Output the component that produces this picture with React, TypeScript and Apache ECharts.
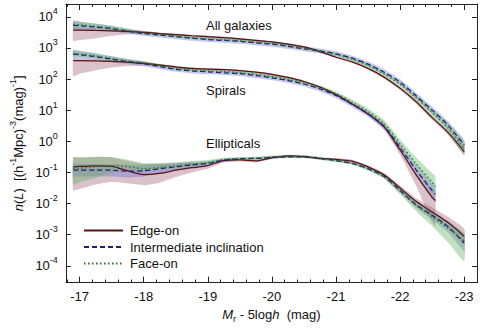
import React, { useEffect, useRef } from "react";
import * as echarts from "echarts";

const FONT = "'Liberation Sans', Arial, Helvetica, sans-serif";

// Absolute magnitude grid (M_r - 5 log h)
const mags = [-16.9, -17, -17.25, -17.5, -17.75, -18, -18.25, -18.5, -18.75, -19, -19.25, -19.5, -19.75, -20, -20.25, -20.5, -20.75, -21, -21.25, -21.5, -21.75, -22, -22.25, -22.5, -22.75, -23];
const magsSpirals = [-16.9, -17, -17.25, -17.5, -17.75, -18, -18.25, -18.5, -18.75, -19, -19.25, -19.5, -19.75, -20, -20.25, -20.5, -20.75, -21, -21.25, -21.5, -21.75, -22, -22.25, -22.5, -22.55];

// log10 n(L)
const allEdge = [3.57, 3.57, 3.56, 3.55, 3.53, 3.50, 3.46, 3.43, 3.39, 3.36, 3.33, 3.29, 3.24, 3.19, 3.12, 3.03, 2.88, 2.70, 2.55, 2.34, 2.06, 1.70, 1.27, 0.76, 0.28, -0.33];
const allInter = [3.72, 3.71, 3.67, 3.62, 3.54, 3.46, 3.41, 3.36, 3.31, 3.27, 3.24, 3.21, 3.16, 3.12, 3.05, 2.97, 2.90, 2.81, 2.67, 2.48, 2.22, 1.90, 1.46, 1.00, 0.51, -0.12];
const allFace = [3.76, 3.74, 3.69, 3.63, 3.55, 3.48, 3.43, 3.38, 3.33, 3.29, 3.26, 3.23, 3.18, 3.14, 3.07, 2.99, 2.90, 2.79, 2.64, 2.44, 2.16, 1.83, 1.40, 0.92, 0.42, -0.22];

const spEdge = [2.59, 2.59, 2.58, 2.57, 2.54, 2.50, 2.45, 2.39, 2.34, 2.32, 2.30, 2.27, 2.22, 2.15, 2.05, 1.92, 1.74, 1.50, 1.20, 0.88, 0.46, -0.28, -1.08, -1.80, -1.90];
const spInter = [2.80, 2.78, 2.72, 2.64, 2.56, 2.49, 2.40, 2.31, 2.26, 2.23, 2.20, 2.17, 2.11, 2.04, 1.95, 1.84, 1.68, 1.47, 1.19, 0.88, 0.48, -0.20, -0.92, -1.58, -1.70];
const spFace = [2.83, 2.80, 2.74, 2.66, 2.58, 2.52, 2.43, 2.34, 2.29, 2.26, 2.24, 2.20, 2.15, 2.08, 1.99, 1.88, 1.73, 1.53, 1.26, 0.96, 0.57, -0.08, -0.72, -1.32, -1.45];

const elEdge = [-0.82, -0.81, -0.79, -0.81, -0.95, -1.07, -1.03, -0.93, -0.85, -0.78, -0.62, -0.60, -0.63, -0.53, -0.47, -0.49, -0.55, -0.58, -0.64, -0.82, -1.08, -1.50, -1.93, -2.27, -2.61, -3.05];
const elInter = [-0.92, -0.93, -0.93, -0.93, -0.96, -0.95, -0.88, -0.82, -0.76, -0.71, -0.61, -0.56, -0.55, -0.52, -0.50, -0.50, -0.55, -0.62, -0.71, -0.88, -1.13, -1.58, -2.04, -2.38, -2.75, -3.27];
const elFace = [-0.88, -0.87, -0.82, -0.79, -0.81, -0.88, -0.84, -0.79, -0.73, -0.68, -0.58, -0.55, -0.54, -0.50, -0.49, -0.50, -0.55, -0.62, -0.71, -0.89, -1.14, -1.60, -2.06, -2.42, -2.80, -3.20];

// uncertainty band half-widths (dex), upper / lower
const allEdgeUp = [0.08, 0.08, 0.07, 0.06, 0.05, 0.04, 0.03, 0.03, 0.03, 0.03, 0.03, 0.03, 0.03, 0.03, 0.03, 0.03, 0.03, 0.03, 0.03, 0.04, 0.04, 0.05, 0.06, 0.07, 0.09, 0.12];
const allEdgeDn = [0.35, 0.32, 0.25, 0.16, 0.09, 0.05, 0.04, 0.03, 0.03, 0.03, 0.03, 0.03, 0.03, 0.03, 0.03, 0.03, 0.03, 0.03, 0.03, 0.04, 0.04, 0.05, 0.06, 0.07, 0.09, 0.12];
const allInterErr = [0.14, 0.13, 0.11, 0.09, 0.08, 0.08, 0.08, 0.08, 0.08, 0.08, 0.08, 0.08, 0.08, 0.08, 0.08, 0.08, 0.08, 0.08, 0.08, 0.08, 0.09, 0.09, 0.10, 0.11, 0.13, 0.16];
const allFaceErr = [0.12, 0.11, 0.09, 0.07, 0.06, 0.05, 0.05, 0.04, 0.04, 0.04, 0.04, 0.04, 0.04, 0.04, 0.05, 0.05, 0.05, 0.05, 0.05, 0.06, 0.06, 0.07, 0.09, 0.12, 0.16, 0.22];

const spEdgeUp = [0.06, 0.06, 0.05, 0.05, 0.04, 0.04, 0.03, 0.03, 0.03, 0.03, 0.03, 0.03, 0.03, 0.03, 0.03, 0.03, 0.03, 0.04, 0.04, 0.05, 0.07, 0.10, 0.15, 0.25, 0.30];
const spEdgeDn = [0.50, 0.42, 0.30, 0.20, 0.12, 0.07, 0.05, 0.04, 0.03, 0.03, 0.03, 0.03, 0.03, 0.03, 0.03, 0.03, 0.03, 0.04, 0.04, 0.05, 0.08, 0.15, 0.35, 0.80, 0.85];
const spInterErr = [0.14, 0.13, 0.11, 0.09, 0.08, 0.08, 0.08, 0.08, 0.08, 0.08, 0.08, 0.08, 0.08, 0.08, 0.08, 0.08, 0.08, 0.08, 0.09, 0.09, 0.10, 0.13, 0.18, 0.25, 0.28];
const spFaceErr = [0.10, 0.09, 0.08, 0.07, 0.06, 0.05, 0.05, 0.04, 0.04, 0.04, 0.04, 0.04, 0.04, 0.05, 0.05, 0.05, 0.06, 0.07, 0.08, 0.09, 0.11, 0.14, 0.20, 0.30, 0.32];

const elEdgeUp = [0.30, 0.29, 0.28, 0.30, 0.32, 0.34, 0.30, 0.22, 0.15, 0.10, 0.06, 0.05, 0.05, 0.04, 0.04, 0.04, 0.04, 0.04, 0.05, 0.05, 0.06, 0.08, 0.10, 0.14, 0.18, 0.25];
const elEdgeDn = [0.75, 0.72, 0.60, 0.50, 0.40, 0.34, 0.30, 0.22, 0.15, 0.10, 0.06, 0.05, 0.05, 0.04, 0.04, 0.04, 0.04, 0.04, 0.05, 0.05, 0.06, 0.10, 0.15, 0.18, 0.20, 0.25];
const elInterErr = [0.20, 0.20, 0.20, 0.20, 0.20, 0.18, 0.15, 0.12, 0.10, 0.08, 0.05, 0.04, 0.04, 0.04, 0.04, 0.04, 0.04, 0.04, 0.04, 0.05, 0.06, 0.08, 0.10, 0.14, 0.18, 0.25];
const elFaceUp = [0.35, 0.35, 0.32, 0.28, 0.22, 0.18, 0.15, 0.12, 0.10, 0.08, 0.05, 0.04, 0.04, 0.04, 0.04, 0.04, 0.04, 0.04, 0.04, 0.05, 0.06, 0.08, 0.12, 0.16, 0.20, 0.25];
const elFaceDn = [0.50, 0.45, 0.35, 0.22, 0.12, 0.08, 0.08, 0.08, 0.08, 0.07, 0.05, 0.04, 0.04, 0.04, 0.04, 0.04, 0.04, 0.04, 0.04, 0.05, 0.06, 0.10, 0.18, 0.30, 0.45, 0.65];

// axis ticks
const xMajorTicks = [-17, -18, -19, -20, -21, -22, -23];
const yTicks = [-4, -3, -2, -1, 0, 1, 2, 3, 4];
const groupLabels = ["All galaxies", "Spirals", "Ellipticals"];

const kinds: Record<string, { name: string; line: string; type: any; band: string }> = {
  edge: { name: "Edge-on", line: "#5a1212", type: "solid", band: "rgba(150,85,108,0.36)" },
  inter: { name: "Intermediate inclination", line: "#1e1e78", type: [5, 3], band: "rgba(100,100,205,0.36)" },
  face: { name: "Face-on", line: "#1d7d1d", type: [1.5, 2.5], band: "rgba(100,175,100,0.40)" },
};

type Curve = { id: string; kind: string; m: number[]; v: number[]; up: number[]; dn: number[] };

const curves: Curve[] = [
  { id: "ae", kind: "edge", m: mags, v: allEdge, up: allEdgeUp, dn: allEdgeDn },
  { id: "se", kind: "edge", m: magsSpirals, v: spEdge, up: spEdgeUp, dn: spEdgeDn },
  { id: "ee", kind: "edge", m: mags, v: elEdge, up: elEdgeUp, dn: elEdgeDn },
  { id: "ai", kind: "inter", m: mags, v: allInter, up: allInterErr, dn: allInterErr },
  { id: "si", kind: "inter", m: magsSpirals, v: spInter, up: spInterErr, dn: spInterErr },
  { id: "ei", kind: "inter", m: mags, v: elInter, up: elInterErr, dn: elInterErr },
  { id: "af", kind: "face", m: mags, v: allFace, up: allFaceErr, dn: allFaceErr },
  { id: "sf", kind: "face", m: magsSpirals, v: spFace, up: spFaceErr, dn: spFaceErr },
  { id: "ef", kind: "face", m: mags, v: elFace, up: elFaceUp, dn: elFaceDn },
];

function buildOption() {
  const minorX: number[] = [];
  for (let k = 0; k <= 31; k++) {
    const r = Math.round((-16.8 - 0.2 * k) * 10) / 10;
    if (Math.abs(r - Math.round(r)) > 1e-6) minorX.push(r);
  }
  const series: any[] = [];

  // uncertainty bands as polygons placed through the axes
  series.push({
    type: "custom",
    name: "bands",
    silent: true,
    clip: true,
    z: 1,
    data: curves.map((c, i) => [c.m[0], c.v[0], i]),
    encode: { x: 0, y: 1 },
    renderItem: (params: any, api: any) => {
      const c = curves[params.dataIndex];
      const upper = c.m.map((m, i) => api.coord([m, c.v[i] + c.up[i]]));
      const lower = c.m.map((m, i) => api.coord([m, c.v[i] - c.dn[i]])).reverse();
      return {
        type: "polygon",
        shape: { points: upper.concat(lower), smooth: 0.15 },
        style: { fill: kinds[c.kind].band, stroke: "none" },
      };
    },
  });

  curves.forEach((c) => {
    const st = kinds[c.kind];
    series.push({
      type: "line",
      name: st.name,
      data: c.m.map((m, i) => [m, c.v[i]]),
      symbol: "none",
      smooth: 0.3,
      color: st.line,
      itemStyle: { color: st.line },
      lineStyle: { color: st.line, width: 1.25, type: st.type },
      z: 3,
    });
  });

  const axisLine = { show: true, onZero: false, lineStyle: { color: "#222", width: 1 } };
  const noLine = { show: false, onZero: false };
  const xBase = { type: "value", inverse: true, min: -23.2, max: -16.785, splitLine: { show: false } };
  const yBase = { type: "value", min: -4.54, max: 4.41, splitLine: { show: false } };
  const base = { fontFamily: FONT, fontSize: 13, color: "#111" };

  return {
    animation: false,
    backgroundColor: "#fff",
    grid: { left: 62, right: 3, top: 4, bottom: 42, containLabel: false },
    legend: {
      data: [kinds.edge.name, kinds.inter.name, kinds.face.name],
      orient: "vertical",
      left: 78,
      top: 219,
      itemWidth: 39,
      itemHeight: 14,
      itemGap: 3.5,
      selectedMode: false,
      itemStyle: { opacity: 0 },
      textStyle: { ...base, padding: [0, 0, 0, 2] },
    },
    xAxis: [
      {
        ...xBase,
        position: "bottom",
        axisLine,
        axisTick: { show: true, inside: true, length: 6, customValues: xMajorTicks, lineStyle: { color: "#222" } },
        axisLabel: { show: true, customValues: xMajorTicks, formatter: (v: number) => String(v), margin: 7, ...base },
        name: "{i|M}{sub|r}{t| - 5log}{i|h}{t|  (mag)}",
        nameLocation: "middle",
        nameGap: 21,
        nameTextStyle: {
          rich: {
            i: { ...base, fontStyle: "italic", lineHeight: 18 },
            t: { ...base, lineHeight: 18 },
            sub: { ...base, fontSize: 9, verticalAlign: "bottom" },
          },
        },
      },
      {
        ...xBase,
        position: "bottom",
        axisLine: noLine,
        axisTick: { show: true, inside: true, length: 3, customValues: minorX, lineStyle: { color: "#222" } },
        axisLabel: { show: false },
      },
      {
        ...xBase,
        position: "top",
        axisLine,
        axisTick: { show: true, inside: true, length: 6, customValues: xMajorTicks, lineStyle: { color: "#222" } },
        axisLabel: { show: false },
      },
      {
        ...xBase,
        position: "top",
        axisLine: noLine,
        axisTick: { show: true, inside: true, length: 3, customValues: minorX, lineStyle: { color: "#222" } },
        axisLabel: { show: false },
      },
    ],
    yAxis: [
      {
        ...yBase,
        position: "left",
        axisLine,
        axisTick: { show: true, inside: true, length: 5, customValues: yTicks, lineStyle: { color: "#222" } },
        axisLabel: {
          show: true,
          customValues: yTicks,
          margin: 8,
          formatter: (v: number) => "{b|10}{s|" + String(Math.round(v)) + "}",
          rich: {
            b: { ...base, lineHeight: 20 },
            s: { ...base, fontSize: 9, verticalAlign: "top" },
          },
        },
        name: "{i|n}{t|(}{i|L}{t|)  [(h}{s|-1}{t|Mpc)}{s|-3}{t|(mag)}{s|-1}{t|]}",
        nameLocation: "middle",
        nameRotate: 90,
        nameGap: 37,
        nameTextStyle: {
          rich: {
            i: { ...base, fontStyle: "italic", lineHeight: 20 },
            t: { ...base, lineHeight: 20 },
            s: { ...base, fontSize: 9, verticalAlign: "top" },
          },
        },
      },
      {
        ...yBase,
        position: "right",
        axisLine,
        axisTick: { show: true, inside: true, length: 5, customValues: yTicks, lineStyle: { color: "#222" } },
        axisLabel: { show: false },
      },
    ],
    graphic: [
      { type: "text", x: 206, y: 25, style: { text: groupLabels[0], font: "13px " + FONT, fill: "#111", verticalAlign: "middle" } },
      { type: "text", x: 206, y: 90, style: { text: groupLabels[1], font: "13px " + FONT, fill: "#111", verticalAlign: "middle" } },
      { type: "text", x: 206, y: 143, style: { text: groupLabels[2], font: "13px " + FONT, fill: "#111", verticalAlign: "middle" } },
    ],
    series,
  };
}

export default function App() {
  const ref = useRef<HTMLDivElement>(null);
  useEffect(() => {
    if (!ref.current) return;
    const chart = echarts.init(ref.current, undefined, { renderer: "svg" });
    chart.setOption(buildOption() as any);
    return () => chart.dispose();
  }, []);
  return <div ref={ref} style={{ position: "fixed", left: 0, top: 0, width: 480, height: 328 }} />;
}
